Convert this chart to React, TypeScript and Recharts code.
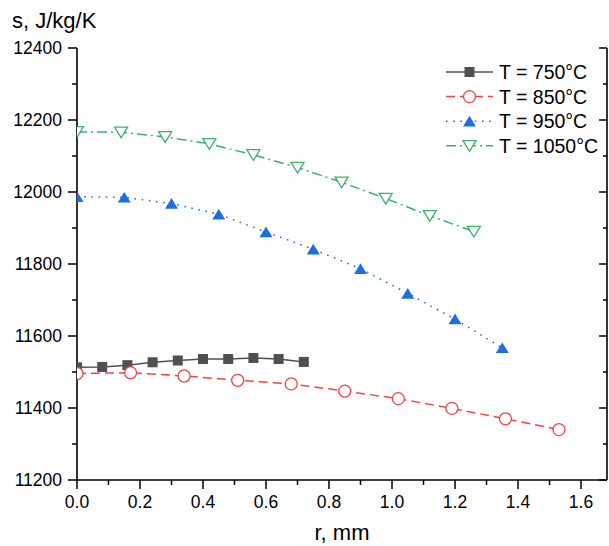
import React from "react";
import { LineChart, Line, XAxis, YAxis, Legend } from "recharts";

// r, mm  /  s, J/kg/K
const r750 = [0, 0.08, 0.16, 0.24, 0.32, 0.4, 0.48, 0.56, 0.64, 0.72];
const s750 = [11513, 11514, 11519, 11527, 11532, 11536, 11536, 11539, 11536, 11528];

const r850 = [0, 0.17, 0.34, 0.51, 0.68, 0.85, 1.02, 1.19, 1.36, 1.53];
const s850 = [11496, 11498, 11489, 11477, 11467, 11447, 11426, 11399, 11370, 11340];

const r950 = [0, 0.15, 0.3, 0.45, 0.6, 0.75, 0.9, 1.05, 1.2, 1.35];
const s950 = [11987, 11985, 11968, 11938, 11889, 11841, 11787, 11718, 11647, 11567];

const r1050 = [0, 0.14, 0.28, 0.42, 0.56, 0.7, 0.84, 0.98, 1.12, 1.26];
const s1050 = [12167, 12166, 12153, 12134, 12103, 12068, 12027, 11982, 11934, 11890];

const xTicks = [0, 0.1, 0.2, 0.3, 0.4, 0.5, 0.6, 0.7, 0.8, 0.9, 1.0, 1.1, 1.2, 1.3, 1.4, 1.5, 1.6];
const yTicks = [11200, 11300, 11400, 11500, 11600, 11700, 11800, 11900, 12000, 12100, 12200, 12300, 12400];

const X_DOMAIN: [number, number] = [0, 1.6825];
const Y_DOMAIN: [number, number] = [11200, 12400];

const FONT = "'Liberation Sans', Arial, sans-serif";

type Pt = { r: number; s: number };
const zip = (r: number[], s: number[]): Pt[] => r.map((v, i) => ({ r: v, s: s[i] }));

type Kind = "square" | "circle" | "up" | "down";

const series = [
  { name: "T = 750°C", data: zip(r750, s750), color: "#505050", dash: undefined, kind: "square" as Kind },
  { name: "T = 850°C", data: zip(r850, s850), color: "#f04545", dash: "9 5", kind: "circle" as Kind },
  { name: "T = 950°C", data: zip(r950, s950), color: "#1d6fe0", dash: "1.6 5.6", kind: "up" as Kind },
  { name: "T = 1050°C", data: zip(r1050, s1050), color: "#3cb06c", dash: "10 4 2 4", kind: "down" as Kind },
];

function Marker({ kind, cx, cy, color }: { kind: Kind; cx: number; cy: number; color: string }) {
  if (cx == null || cy == null) return null;
  switch (kind) {
    case "square":
      return <rect x={cx - 5} y={cy - 5} width={10} height={10} fill={color} />;
    case "circle":
      return <circle cx={cx} cy={cy} r={6} fill="#fff" stroke={color} strokeWidth={1.3} />;
    case "up":
      return (
        <polygon
          points={`${cx},${cy - 5.5} ${cx + 6.5},${cy + 5.2} ${cx - 6.5},${cy + 5.2}`}
          fill={color}
        />
      );
    default:
      return (
        <polygon
          points={`${cx - 6.5},${cy - 5.2} ${cx + 6.5},${cy - 5.2} ${cx},${cy + 5.5}`}
          fill="#fff"
          stroke={color}
          strokeWidth={1.3}
        />
      );
  }
}

const isMajorX = (v: number) => Math.round(v * 10) % 2 === 0;
const isMajorY = (v: number) => v % 200 === 0;

function BottomTick({ x, y, payload }: any) {
  const major = isMajorX(payload.value);
  return (
    <g>
      <line x1={x} x2={x} y1={y} y2={y + (major ? 9 : 5)} stroke="#000" strokeWidth={1.5} />
      {major && (
        <text x={x} y={y + 28} textAnchor="middle" fontSize={17.5} fill="#000" fontFamily={FONT}>
          {payload.value.toFixed(1)}
        </text>
      )}
    </g>
  );
}

function TopTick({ x, y, payload }: any) {
  const major = isMajorX(payload.value);
  return <line x1={x} x2={x} y1={y} y2={y + (major ? 9 : 5)} stroke="#000" strokeWidth={1.5} />;
}

function LeftTick({ x, y, payload }: any) {
  const major = isMajorY(payload.value);
  return (
    <g>
      <line x1={x - (major ? 9 : 5)} x2={x} y1={y} y2={y} stroke="#000" strokeWidth={1.5} />
      {major && (
        <text x={x - 15} y={y + 6} textAnchor="end" fontSize={17.5} fill="#000" fontFamily={FONT}>
          {payload.value}
        </text>
      )}
    </g>
  );
}

function RightTick({ x, y, payload }: any) {
  const major = isMajorY(payload.value);
  return <line x1={x - (major ? 8 : 4)} x2={x} y1={y} y2={y} stroke="#000" strokeWidth={1.5} />;
}

function LegendBox() {
  return (
    <svg width={170} height={100} style={{ display: "block" }}>
      {series.map((s, i) => {
        const y = 14 + i * 24.6;
        return (
          <g key={s.name}>
            <line x1={6} x2={53} y1={y} y2={y} stroke={s.color} strokeWidth={1.5} strokeDasharray={s.dash} />
            <Marker kind={s.kind} cx={29.5} cy={y} color={s.color} />
            <text x={59} y={y + 7} fontSize={19.5} fill="#000" fontFamily={FONT}>
              {s.name}
            </text>
          </g>
        );
      })}
    </svg>
  );
}

export default function App() {
  return (
    <div style={{ position: "absolute", left: 0, top: 0, width: 609, height: 546, background: "#fff", fontFamily: FONT }}>
      <LineChart width={609} height={546} margin={{ top: 48, right: 0, bottom: 0, left: 0 }}>
        <XAxis
          dataKey="r"
          type="number"
          domain={X_DOMAIN}
          allowDataOverflow
          ticks={xTicks}
          interval={0}
          height={66}
          tickSize={0}
          tickMargin={0}
          tickLine={false}
          axisLine={{ stroke: "#000", strokeWidth: 1.6 }}
          tick={<BottomTick />}
          label={{
            content: ({ viewBox }: any) => (
              <text
                x={viewBox.x + viewBox.width / 2}
                y={viewBox.y + 60}
                textAnchor="middle"
                fontSize={22}
                fill="#000"
                fontFamily={FONT}
              >
                r, mm
              </text>
            ),
          }}
        />
        <XAxis
          xAxisId="top"
          orientation="top"
          type="number"
          domain={X_DOMAIN}
          allowDataOverflow
          ticks={xTicks}
          interval={0}
          height={0}
          tickSize={0}
          tickMargin={0}
          tickLine={false}
          axisLine={{ stroke: "#000", strokeWidth: 1.6 }}
          tick={<TopTick />}
        />
        <YAxis
          type="number"
          domain={Y_DOMAIN}
          allowDataOverflow
          ticks={yTicks}
          interval={0}
          width={77}
          tickSize={0}
          tickMargin={0}
          tickLine={false}
          axisLine={{ stroke: "#000", strokeWidth: 1.6 }}
          tick={<LeftTick />}
          label={{
            content: () => (
              <text x={12} y={28} fontSize={22} fill="#000" fontFamily={FONT}>
                s, J/kg/K
              </text>
            ),
          }}
        />
        <YAxis
          yAxisId="right"
          orientation="right"
          type="number"
          domain={Y_DOMAIN}
          allowDataOverflow
          ticks={yTicks}
          interval={0}
          width={2}
          tickSize={0}
          tickMargin={0}
          tickLine={false}
          axisLine={{ stroke: "#000", strokeWidth: 1.6 }}
          tick={<RightTick />}
        />
        <Legend
          layout="vertical"
          align="center"
          verticalAlign="middle"
          content={() => <LegendBox />}
          wrapperStyle={{ left: 440, top: 58, width: 170, height: 100 }}
        />
        {series.map((s) => (
          <Line
            key={s.name}
            data={s.data}
            dataKey="s"
            name={s.name}
            type="linear"
            stroke={s.color}
            strokeWidth={1.5}
            strokeDasharray={s.dash}
            isAnimationActive={false}
            activeDot={false}
            dot={(p: any) => <Marker key={`${s.name}-${p.index}`} kind={s.kind} cx={p.cx} cy={p.cy} color={s.color} />}
          />
        ))}
      </LineChart>
    </div>
  );
}
